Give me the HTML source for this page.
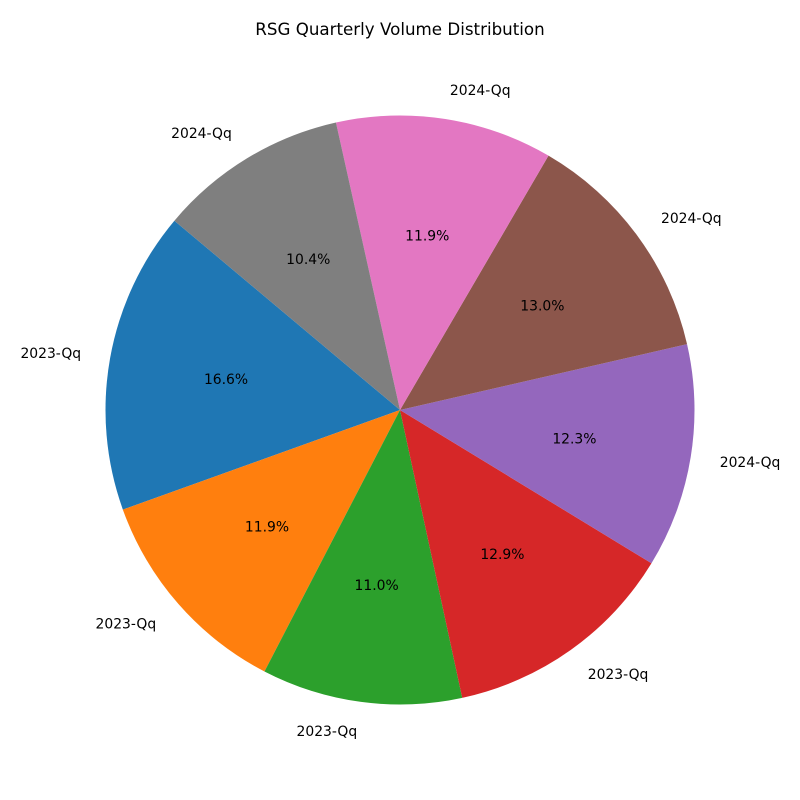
<!DOCTYPE html>
<html><head><meta charset="utf-8"><style>
body{margin:0;background:#fff}
svg{display:block;font-family:"DejaVu Sans","Liberation Sans",sans-serif}
</style></head><body>
<svg id="chart" width="800" height="800">
<rect width="800" height="800" fill="#fff"/>
<text x="400" y="35" text-anchor="middle" font-size="16.7">RSG Quarterly Volume Distribution</text>
<g id="slices"></g>
</svg>
<script>
const labels = ["2023-Qq","2023-Qq","2023-Qq","2023-Qq","2024-Qq","2024-Qq","2024-Qq","2024-Qq"];
const values = [16.6,11.9,11.0,12.9,12.3,13.0,11.9,10.4];
const colors = ["#1f77b4","#ff7f0e","#2ca02c","#d62728","#9467bd","#8c564b","#e377c2","#7f7f7f"];
const cx=400, cy=410, R=294.5, startAngle=140;
const g=document.getElementById('slices');
const NS='http://www.w3.org/2000/svg';
const total=values.reduce((a,b)=>a+b,0);
let a=startAngle;
function pt(deg,r){const t=deg*Math.PI/180;return [cx+r*Math.cos(t), cy-r*Math.sin(t)];}
values.forEach((v,i)=>{
  const span=v/total*360, a2=a+span;
  const [x1,y1]=pt(a,R),[x2,y2]=pt(a2,R);
  const p=document.createElementNS(NS,'path');
  p.setAttribute('d',`M${cx},${cy}L${x1},${y1}A${R},${R} 0 ${span>180?1:0} 0 ${x2},${y2}Z`);
  p.setAttribute('fill',colors[i]);
  
  
  g.appendChild(p);
  const mid=a+span/2;
  const [lx,ly]=pt(mid,R*1.1);
  const t=document.createElementNS(NS,'text');
  t.setAttribute('x',lx);t.setAttribute('y',ly+5);t.setAttribute('font-size','13.9');
  const c=Math.cos(mid*Math.PI/180);
  t.setAttribute('text-anchor', c<-0.01?'end':(c>0.01?'start':'middle'));
  t.textContent=labels[i];
  
  
  g.appendChild(t);
  const [px,py]=pt(mid,R*0.6);
  const q=document.createElementNS(NS,'text');
  q.setAttribute('x',px);q.setAttribute('y',py+5);q.setAttribute('font-size','13.9');q.setAttribute('text-anchor','middle');
  q.textContent=(v/total*100).toFixed(1)+'%';
  
  
  g.appendChild(q);
  a=a2;
});
</script>
</body></html>
